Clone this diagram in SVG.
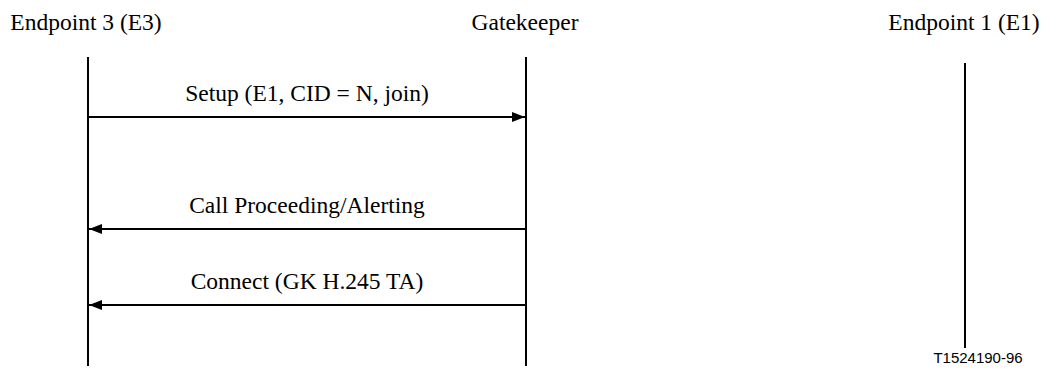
<svg xmlns="http://www.w3.org/2000/svg" width="1045" height="370" viewBox="0 0 1045 370">
<style>
  .lbl { font-family: "Liberation Serif", "Times New Roman", serif; font-size: 23.5px; fill: #000; text-anchor: middle; }
  .life { stroke: #000; stroke-width: 2; fill: none; }
  .msg { stroke: #000; stroke-width: 2; fill: none; marker-end: url(#ah); }
  .ref { font-family: "Liberation Sans", Arial, sans-serif; font-size: 15px; fill: #000; text-anchor: middle; }
</style>
<defs>
  <marker id="ah" viewBox="0 0 13 10" refX="13" refY="5" markerWidth="13" markerHeight="10" markerUnits="userSpaceOnUse" orient="auto">
    <path d="M0,0 L13,5 L0,10 Z" fill="#000"/>
  </marker>
</defs>
<rect width="1045" height="370" fill="#fff"/>
<g id="node-e3">
  <text class="lbl" x="86" y="30">Endpoint 3 (E3)</text>
  <line class="life" x1="88" y1="57" x2="88" y2="366"/>
</g>
<g id="node-gk">
  <text class="lbl" x="525" y="30">Gatekeeper</text>
  <line class="life" x1="526" y1="57" x2="526" y2="366"/>
</g>
<g id="node-e1">
  <text class="lbl" x="964" y="30">Endpoint 1 (E1)</text>
  <line class="life" x1="965" y1="63" x2="965" y2="348"/>
</g>
<g id="connectors">
  <line class="msg" x1="88" y1="117" x2="525" y2="117"/>
  <text class="lbl" x="307" y="101">Setup (E1, CID = N, join)</text>
  <line class="msg" x1="526" y1="229" x2="89" y2="229"/>
  <text class="lbl" x="307" y="213">Call Proceeding/Alerting</text>
  <line class="msg" x1="526" y1="305" x2="89" y2="305"/>
  <text class="lbl" x="307" y="289">Connect (GK H.245 TA)</text>
</g>
<text class="ref" x="978" y="363">T1524190-96</text>
</svg>
